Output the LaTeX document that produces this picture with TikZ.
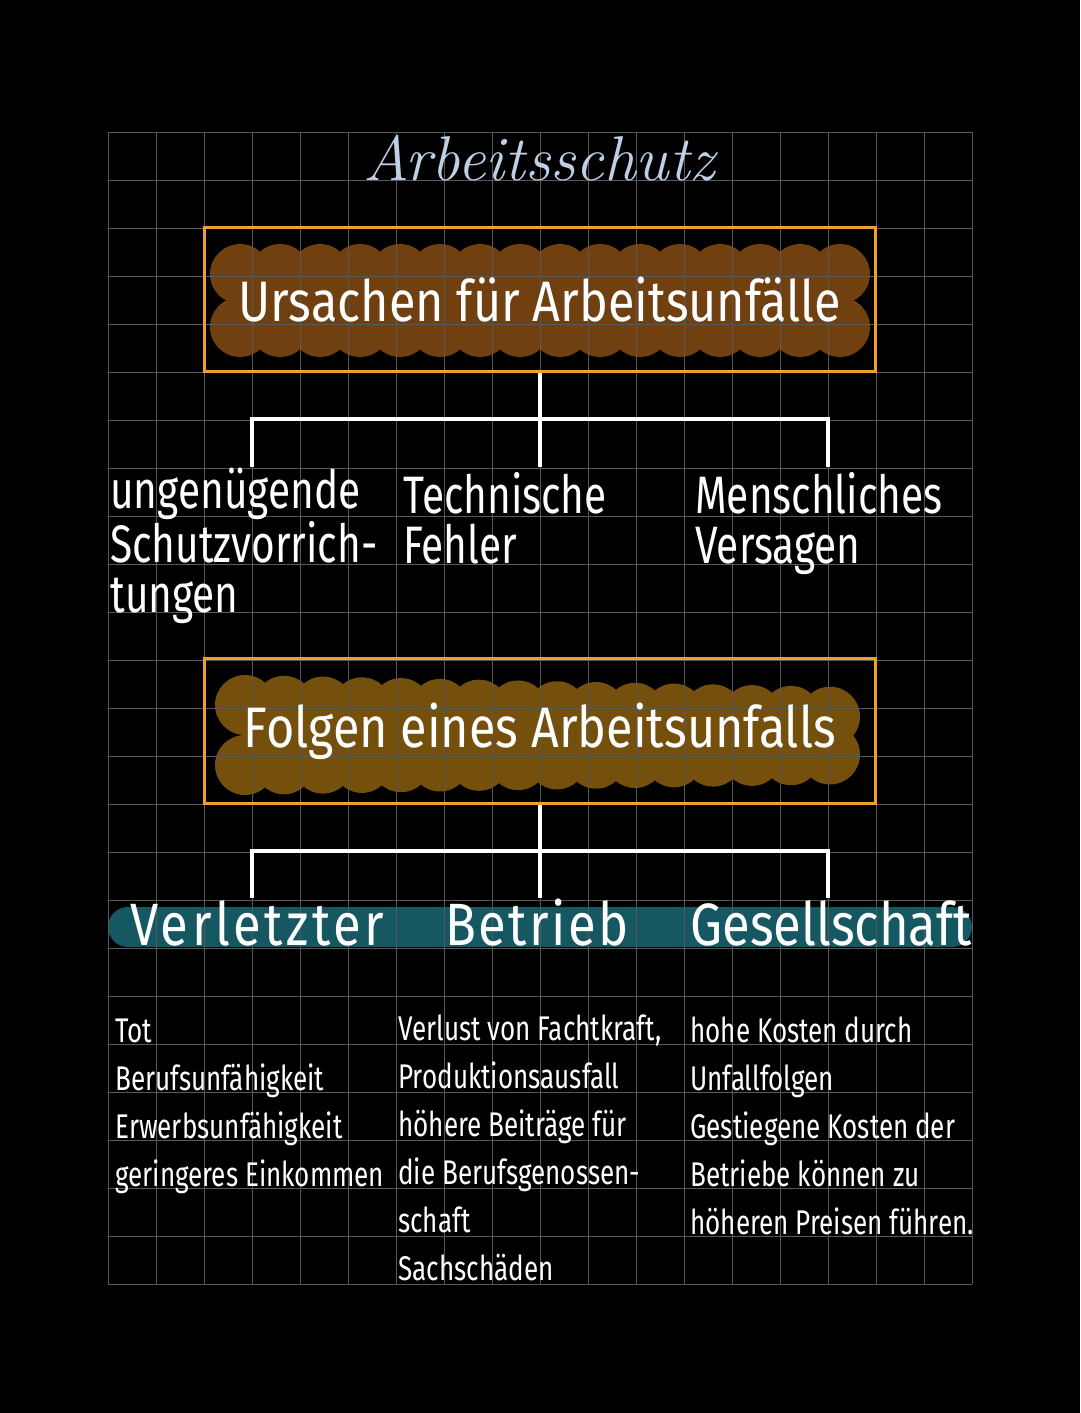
\documentclass[tikz,border=0pt]{standalone}
\usepackage{fontspec}
\newfontfamily\headfont{Fira Sans}[FakeStretch=0.85]
\newfontfamily\handfont{Fira Sans}[FakeStretch=0.77]
\newfontfamily\notefont{Fira Sans}[FakeStretch=0.76]
\usetikzlibrary{positioning}
\definecolor{boxorange}{RGB}{240,160,40}
\definecolor{blobA}{RGB}{112,64,16}
\definecolor{blobB}{RGB}{116,80,12}
\definecolor{bandteal}{RGB}{22,88,98}
\definecolor{gridgray}{RGB}{88,88,88}
\definecolor{titleblue}{RGB}{190,208,230}
\tikzset{
  gridline/.style = {gridgray, line width=0.5pt},
  heading/.style  = {draw=boxorange, line width=1.7pt, minimum width=13.44cm,
                     minimum height=2.9cm, text=white,
                     font=\headfont\fontsize{32.5}{38}\selectfont},
  branch/.style   = {white, line width=1.8pt},
  cause/.style    = {anchor=base west, inner sep=0pt, align=left, text=white,
                     font=\handfont\fontsize{30}{28}\selectfont},
  party/.style    = {anchor=base west, inner sep=0pt, text=white,
                     font=\headfont\fontsize{34}{40}\selectfont},
  effect/.style   = {anchor=base west, inner sep=0pt, align=left, text=white,
                     font=\notefont\fontsize{19.5}{27.3}\selectfont},
  titletext/.style = {anchor=base, inner sep=0pt, text=titleblue,
                     font=\rmfamily\itshape\fontsize{36}{40}\selectfont}
}
\begin{document}
\begin{tikzpicture}[x=0.02cm, y=-0.02cm]
  \useasboundingbox[fill=black] (0,0) rectangle (1080,1413);
  % brown highlights behind the headings
  \fill[blobA] (240,274) rectangle (840,327);
  \foreach \x in {240,280,...,840} {
    \fill[blobA] (\x,274) circle (0.6cm);
    \fill[blobA] (\x,327) circle (0.6cm);
  }
  \fill[blobB] (245,705) -- (830,716.7) -- (830,754.5) -- (245,765) -- cycle;
  \foreach \x in {245,284,...,830} {
    \fill[blobB] (\x,{705+0.02*(\x-245)}) circle (0.6cm);
    \fill[blobB] (\x,{765-0.018*(\x-245)}) circle (0.6cm);
  }
  % teal band
  \draw[bandteal, line width=0.8cm, line cap=round] (128,927) -- (952,927);
  % grid
  \foreach \i in {0,...,18}
    \draw[gridline] (108+48*\i,132) -- (108+48*\i,1284);
  \foreach \j in {0,...,24}
    \draw[gridline] (108,132+48*\j) -- (972,132+48*\j);

  \node[titletext] (ttl) at (539,180) {Arbeitsschutz};

  \node[heading] (b1) at (540,299.5) {Ursachen für Arbeitsunfälle};
  \coordinate (j1) at (540,419);
  \coordinate (c1) at (252,467);
  \coordinate (c2) at (540,467);
  \coordinate (c3) at (828,467);
  \draw[branch] (b1.south) -- (c2);
  \draw[branch] (c1) |- (j1) -| (c3);

  \node[cause] (schutz) at (110,612) {ungenügende\\Schutzvorrich-\\tungen};
  \node[cause] (technik) at (403,563) {Technische\\Fehler};
  \node[cause] (mensch) at (695,563) {Menschliches\\Versagen};

  \node[heading] (b2) at (540,731) {Folgen eines Arbeitsunfalls};
  \coordinate (j2) at (540,851);
  \coordinate (g1) at (252,898);
  \coordinate (g2) at (540,898);
  \coordinate (g3) at (828,898);
  \draw[branch] (b2.south) -- (g2);
  \draw[branch] (g1) |- (j2) -| (g3);

  \node[party] (verl) at (130,945) {\addfontfeature{LetterSpace=6}Verletzter};
  \node[party] (betr) at (445,945) {\addfontfeature{LetterSpace=4}Betrieb};
  \node[party] (ges) at (690,945) {Gesellschaft};

  \node[effect] (folgV) at (115,1186) {Tot\\Berufsunfähigkeit\\Erwerbsunfähigkeit\\geringeres Einkommen};
  \node[effect] (folgB) at (398,1280) {Verlust von Fachtkraft,\\Produktionsausfall\\höhere Beiträge für\\die Berufsgenossen-\\schaft\\Sachschäden};
  \node[effect] (folgG) at (690,1234) {hohe Kosten durch\\Unfallfolgen\\Gestiegene Kosten der\\Betriebe können zu\\höheren Preisen führen.};
\end{tikzpicture}
\end{document}
